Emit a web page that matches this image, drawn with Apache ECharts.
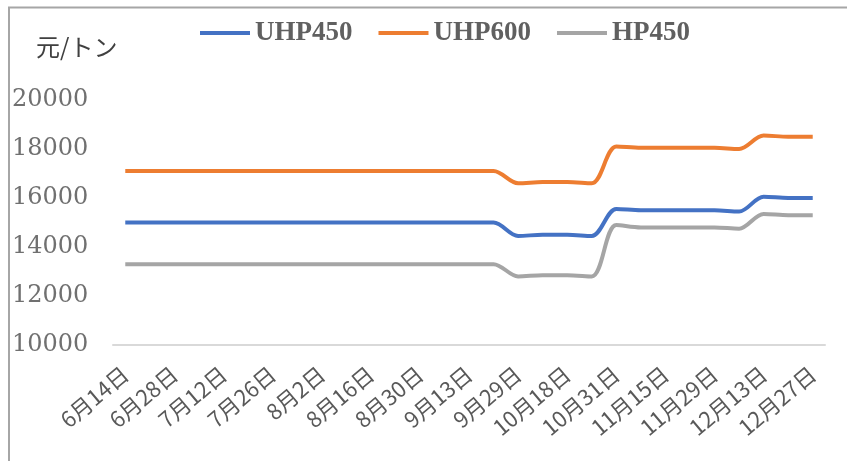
<!DOCTYPE html>
<html>
<head>
<meta charset="utf-8">
<script src="https://cdn.jsdelivr.net/npm/echarts@6/dist/echarts.min.js"></script>
<style>
  html, body { margin: 0; padding: 0; background: #ffffff; }
  #chart { width: 847px; height: 461px; }
</style>
</head>
<body>
<div id="chart"></div>
<script>
// Weekly price points (every other date is labelled on the axis)
const categories = [
  '6月14日', '6月21日', '6月28日', '7月5日', '7月12日', '7月19日', '7月26日', '7月29日',
  '8月2日', '8月9日', '8月16日', '8月23日', '8月30日', '9月6日', '9月13日', '9月20日',
  '9月29日', '10月11日', '10月18日', '10月25日', '10月31日', '11月8日', '11月15日',
  '11月22日', '11月29日', '12月6日', '12月13日', '12月20日', '12月27日'
];

const uhp450 = [
  15000, 15000, 15000, 15000, 15000, 15000, 15000, 15000,
  15000, 15000, 15000, 15000, 15000, 15000, 15000, 15000,
  14450, 14500, 14500, 14450, 15550, 15500, 15500,
  15500, 15500, 15450, 16050, 16000, 16000
];

const uhp600 = [
  17100, 17100, 17100, 17100, 17100, 17100, 17100, 17100,
  17100, 17100, 17100, 17100, 17100, 17100, 17100, 17100,
  16600, 16650, 16650, 16600, 18100, 18050, 18050,
  18050, 18050, 18000, 18550, 18500, 18500
];

const hp450 = [
  13300, 13300, 13300, 13300, 13300, 13300, 13300, 13300,
  13300, 13300, 13300, 13300, 13300, 13300, 13300, 13300,
  12800, 12850, 12850, 12800, 14900, 14800, 14800,
  14800, 14800, 14750, 15350, 15300, 15300
];

const yMin = 10000;
const yMax = 20000;
const yStep = 2000;

const seriesNames = ['UHP450', 'UHP600', 'HP450'];
const seriesColors = ['#4472C4', '#ED7D31', '#A5A5A5'];
const seriesValues = [uhp450, uhp600, hp450];

const chart = echarts.init(document.getElementById('chart'), null, { renderer: 'canvas' });

chart.setOption({
  animation: false,
  backgroundColor: '#ffffff',
  title: {
    text: '元/トン',
    left: 36,
    top: 35,
    padding: 0,
    textStyle: {
      fontFamily: 'Noto Sans CJK JP',
      fontSize: 24,
      fontWeight: 'normal',
      color: '#404040'
    }
  },
  legend: {
    data: seriesNames,
    left: 200,
    top: 19,
    padding: 0,
    icon: 'rect',
    itemWidth: 50,
    itemHeight: 4,
    itemGap: 26,
    textStyle: {
      fontFamily: 'Liberation Serif',
      fontSize: 27,
      fontWeight: 'bold',
      lineHeight: 28,
      color: '#606060'
    }
  },
  grid: {
    left: 113,
    right: 22,
    top: 100,
    bottom: 116,
    containLabel: false
  },
  xAxis: {
    type: 'category',
    data: categories,
    boundaryGap: true,
    axisTick: { show: false },
    axisLine: { lineStyle: { color: '#D9D9D9', width: 2 } },
    axisLabel: {
      interval: 1,
      rotate: 40,
      margin: 26,
      fontFamily: 'Noto Sans CJK JP',
      fontSize: 22,
      color: '#595959'
    }
  },
  yAxis: {
    type: 'value',
    min: yMin,
    max: yMax,
    interval: yStep,
    axisLine: { show: false },
    axisTick: { show: false },
    splitLine: { show: false },
    axisLabel: {
      align: 'left',
      margin: 101,
      formatter: (v) => String(v),
      fontFamily: 'DejaVu Serif',
      fontSize: 24,
      color: '#707070'
    }
  },
  graphic: [
    {
      type: 'line',
      shape: { x1: 9, y1: 7, x2: 9, y2: 461 },
      style: { stroke: '#A6A6A6', lineWidth: 2 }
    },
    {
      type: 'line',
      shape: { x1: 8, y1: 7.5, x2: 847, y2: 7.5 },
      style: { stroke: '#A6A6A6', lineWidth: 2 }
    }
  ],
  series: seriesNames.map((name, i) => ({
    name: name,
    type: 'line',
    data: seriesValues[i],
    smooth: 0.33,
    symbol: 'none',
    lineStyle: { width: 4, color: seriesColors[i] },
    itemStyle: { color: seriesColors[i] }
  }))
});
</script>
</body>
</html>
